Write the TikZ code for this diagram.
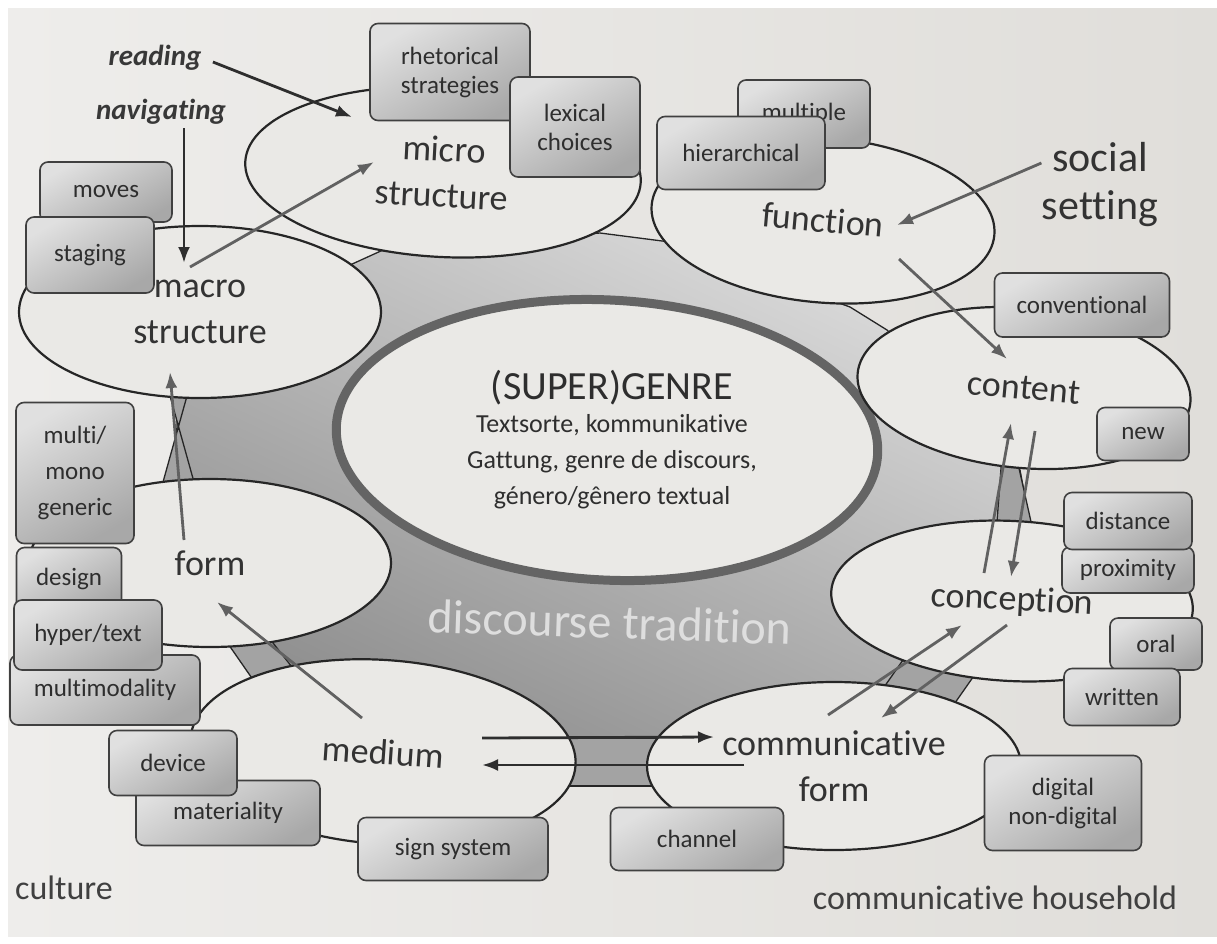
\documentclass[tikz,border=0pt]{standalone}
\usepackage{fontspec}
\setmainfont{Carlito}[Ligatures=NoCommon]
\usetikzlibrary{arrows.meta,positioning,shapes.geometric}

\definecolor{paper}{RGB}{224,222,218}
\definecolor{paperlight}{RGB}{238,237,235}
\definecolor{bubblebg}{RGB}{234,233,230}
\definecolor{ink}{RGB}{38,38,38}
\definecolor{ringgray}{RGB}{100,100,100}
\definecolor{tradition}{RGB}{222,222,222}

\pgfdeclarelayer{back}
\pgfdeclarelayer{fills}
\pgfsetlayers{back,fills,main}

\begin{document}
\begin{tikzpicture}[
  x=1pt,y=-1pt,>=Latex,
  bubble/.style={ellipse,draw=ink,line width=2.2pt,inner sep=0pt,align=center,
    text=black!80,font=\fontsize{36}{46}\selectfont},
  bubblefill/.style={ellipse,fill=bubblebg,inner sep=0pt},
  g-micro/.style={minimum width=396pt,minimum height=170pt,rotate=-3},
  g-function/.style={minimum width=344pt,minimum height=165pt,rotate=-5},
  g-macro/.style={minimum width=362pt,minimum height=172pt},
  g-content/.style={minimum width=334pt,minimum height=160pt,rotate=-5},
  g-form/.style={minimum width=362pt,minimum height=168pt},
  g-conception/.style={minimum width=362pt,minimum height=160pt,rotate=-3},
  g-medium/.style={minimum width=386pt,minimum height=184pt,rotate=-4},
  g-commform/.style={minimum width=374pt,minimum height=168pt},
  g-genre/.style={minimum width=542pt,minimum height=280pt,rotate=-3},
  tag/.style={draw=black!75,line width=1.6pt,rounded corners=8pt,align=center,
    top color=black!12,bottom color=black!34,shading angle=30,
    text=black!82,font=\fontsize{25}{29}\selectfont,inner sep=0pt},
  arr/.style={-{Latex[length=16pt,width=12pt]},line width=2.8pt,draw=black!62},
  darkarr/.style={arr,draw=black!82},
  word/.style={text=black!75,font=\fontsize{34}{40}\selectfont},
  cue/.style={text=black!78,font=\fontsize{29}{32}\selectfont\bfseries\itshape},
  bridge/.style={fill=black!36,draw=ink,line width=1.3pt}
]
\useasboundingbox (0,0) rectangle (1217,943);

% page and discourse tradition
\begin{pgfonlayer}{back}
\fill[white] (0,0) rectangle (1217,943);
\shade[left color=paperlight,right color=paper] (8,8) rectangle (1217,936);
\path[draw=ink,line width=1.3pt,top color=black!14,bottom color=black!46,shading angle=-25]
  (350,265) -- (383,250) -- (600,233) -- (670,242) -- (850,307) -- (887,330)
  -- (1020,470) -- (1030,524) -- (965,672) -- (935,700) -- (648,785) -- (576,785)
  -- (277,672) -- (245,646) -- (175,482) -- (178,397) -- cycle;
\path[bridge] (158,500) -- (192,378) -- (165,378) -- (199,500) -- cycle;
\path[bridge] (215,625) -- (255,620) -- (310,690) -- (265,697) -- cycle;
\path[bridge] (560,738) -- (665,738) -- (665,786) -- (560,786) -- cycle;
\path[bridge] (910,650) -- (985,660) -- (950,710) -- (875,700) -- cycle;
\path[bridge] (1002,455) -- (1016,455) -- (1034,535) -- (996,535) -- cycle;
\end{pgfonlayer}

% centre
\node[bubble,draw=ringgray,line width=9pt,g-genre] (genre) at (607,440) {};
\node[text=black!82,font=\fontsize{40}{44}\selectfont,inner sep=0pt] (genretitle) at (612,388) {(SUPER)GENRE};
\node[below=9pt of genretitle,align=center,text=black!82,font=\fontsize{26}{36}\selectfont,inner sep=0pt]
  (genresub) {Textsorte, kommunikative\\Gattung, genre de discours,\\género/gênero textual};
\node[text=tradition,font=\fontsize{48}{52}\selectfont,rotate=-2] (tradition) at (610,622) {discourse tradition};

% ring of dimensions
\node[bubble,g-micro] (micro) at (443,172) {micro\\structure};
\node[bubble,g-function] (function) at (823,220) {function};
\node[bubble,g-macro] (macro) at (200,312) {macro\\structure};
\node[bubble,g-content] (content) at (1024,388) {content};
\node[bubble,g-form] (form) at (210,563) {form};
\node[bubble,g-conception] (conception) at (1012,601) {conception};
\node[bubble,g-medium] (medium) at (383,752) {medium};
\node[bubble,g-commform] (commform) at (834,766) {communicative\\form};

\begin{pgfonlayer}{fills}
\node[bubblefill,g-genre] at (genre) {};
\node[bubblefill,g-micro] at (micro) {};
\node[bubblefill,g-function] at (function) {};
\node[bubblefill,g-macro] at (macro) {};
\node[bubblefill,g-content] at (content) {};
\node[bubblefill,g-form] at (form) {};
\node[bubblefill,g-conception] at (conception) {};
\node[bubblefill,g-medium] at (medium) {};
\node[bubblefill,g-commform] at (commform) {};
\end{pgfonlayer}

% features
\node[tag,minimum width=132pt,minimum height=60pt] (moves) at (106,192) {moves};
\node[tag,minimum width=128pt,minimum height=76pt] (staging) at (90,255) {staging};
\node[tag,minimum width=160pt,minimum height=97pt] (rhetorical) at (450,72) {rhetorical\\strategies};
\node[tag,minimum width=130pt,minimum height=100pt] (lexical) at (575,127) {lexical\\choices};
\node[tag,minimum width=132pt,minimum height=68pt] (multiple) at (804,114) {multiple};
\node[tag,minimum width=168pt,minimum height=73pt] (hierarchical) at (741,153) {hierarchical};
\node[tag,minimum width=175pt,minimum height=64pt] (conventional) at (1082,305) {conventional};
\node[tag,minimum width=92pt,minimum height=53pt] (new) at (1143,434) {new};
\node[tag,minimum width=132pt,minimum height=46pt] (proximity) at (1128,570) {proximity};
\node[tag,minimum width=128pt,minimum height=57pt] (distance) at (1128,521) {distance};
\node[tag,minimum width=92pt,minimum height=52pt] (oral) at (1156,644) {oral};
\node[tag,minimum width=116pt,minimum height=57pt] (written) at (1122,697) {written};
\node[tag,minimum width=157pt,minimum height=95pt] (digital) at (1063,803) {digital\\non-digital};
\node[tag,minimum width=173pt,minimum height=63pt] (channel) at (697,839) {channel};
\node[tag,minimum width=190pt,minimum height=63pt] (signsystem) at (453,849) {sign system};
\node[tag,minimum width=184pt,minimum height=65pt] (materiality) at (228,813) {materiality};
\node[tag,minimum width=128pt,minimum height=65pt] (device) at (173,763) {device};
\node[tag,minimum width=190pt,minimum height=70pt] (multimodality) at (105,690) {multimodality};
\node[tag,minimum width=105pt,minimum height=63pt] (design) at (69,579) {design};
\node[tag,minimum width=148pt,minimum height=70pt] (hypertext) at (88,635) {hyper/text};
\node[tag,minimum width=118pt,minimum height=141pt,font=\fontsize{25}{36}\selectfont] (generic) at (75,473) {multi/\\mono\\generic};

% outside cues
\node[cue] (reading) at (155,58) {reading};
\node[cue] (navigating) at (161,112) {navigating};
\node[word,align=center,text=black!80,font=\fontsize{42}{48}\selectfont] (social) at (1100,185) {social\\setting};
\node[word] (culture) at (64,888) {culture};
\node[word] (household) at (995,898) {communicative household};

% relations
\draw[darkarr] ([shift={(8,4)}]reading.east) -- ([shift={(-91,-55)}]micro.center);
\draw[darkarr] ([xshift=23pt]navigating.south) -- ([shift={(-16,-49)}]macro.center);
\draw[arr] ([shift={(-10,-45)}]macro.center) -- ([shift={(-69,-10)}]micro.center);
\draw[arr] ([shift={(-26,-23)}]form.center) -- ([shift={(-30,60)}]macro.center);
\draw[arr] ([shift={(-21,-34)}]medium.center) -- ([shift={(7,39)}]form.center);
\draw[darkarr] ([shift={(99,-14)}]medium.center) -- ([shift={(-120,-29)}]commform.center);
\draw[darkarr] ([shift={(-90,-1)}]commform.center) -- ([shift={(99,13)}]medium.center);
\draw[arr] ([shift={(-6,-51)}]commform.center) -- ([shift={(-50,24)}]conception.center);
\draw[arr] ([shift={(-5,24)}]conception.center) -- ([shift={(47,-48)}]commform.center);
\draw[arr] ([shift={(-28,-28)}]conception.center) -- ([shift={(-13,35)}]content.center);
\draw[arr] ([shift={(11,43)}]content.center) -- ([shift={(-1,-24)}]conception.center);
\draw[arr] ([shift={(76,39)}]function.center) -- ([shift={(-17,-29)}]content.center);
\draw[arr] ([shift={(3,-22)}]social.west) -- ([shift={(74,5)}]function.center);
\end{tikzpicture}
\end{document}
